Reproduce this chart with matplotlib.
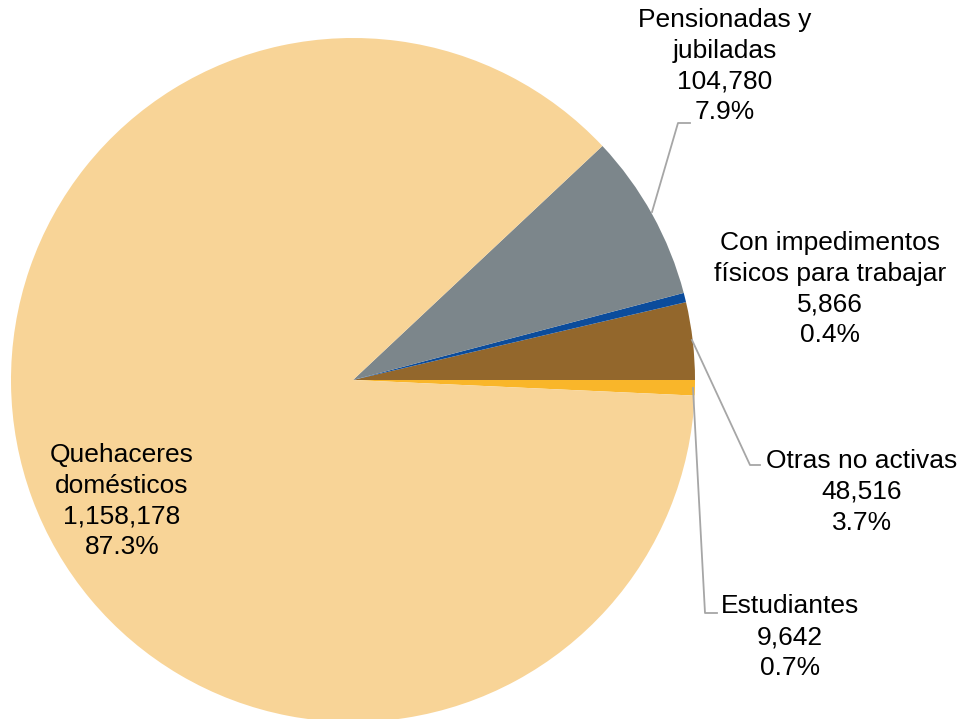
import matplotlib
matplotlib.use("Agg")
import matplotlib.pyplot as plt

plt.rcParams['font.family'] = ['Liberation Sans', 'DejaVu Sans']

# datos (orden antihorario empezando en Estudiantes)
nombres = ['Estudiantes', 'Otras no activas', 'Con impedimentos\nfísicos para trabajar',
           'Pensionadas y\njubiladas', 'Quehaceres\ndomésticos']
valores = [9642, 48516, 5866, 104780, 1158178]
colores = ['#F9B62A', '#93672C', '#0B4C9C', '#7C868B', '#F8D497']

W, H = 964, 719
total = sum(valores)

fig = plt.figure(figsize=(W / 100, H / 100), dpi=100)
ax = fig.add_axes([0, 0, 1, 1])

def py(y):
    # pixel y (desde arriba) -> coordenada de datos
    return H - y

inicio = -360 * valores[0] / total
ax.pie(valores, colors=colores, startangle=inicio, counterclock=True,
       center=(353, py(380)), radius=342, wedgeprops=dict(linewidth=0))

ax.set_xlim(0, W)
ax.set_ylim(0, H)
ax.set_aspect('equal')
ax.axis('off')

# posiciones de etiquetas (px) y lineas guia
pos = [(790, 637), (862, 492), (830, 289), (725, 66), (122, 501)]
guias = [
    [(693, 388), (705, 613), (717, 613)],
    [(692, 340), (750, 465), (760, 465)],
    None,
    [(652, 212), (678, 123), (690, 123)],
    None,
]

for nombre, v, (x, y), g in zip(nombres, valores, pos, guias):
    txt = f"{nombre}\n{v:,}\n{100 * v / total:.1f}%"
    ax.text(x, py(y), txt, ha='center', va='center', fontsize=19,
            linespacing=1.36, color='black')
    if g:
        ax.plot([p[0] for p in g], [py(p[1]) for p in g], color='#A6A6A6', lw=1.3)

fig.savefig('out.png', dpi=100)
